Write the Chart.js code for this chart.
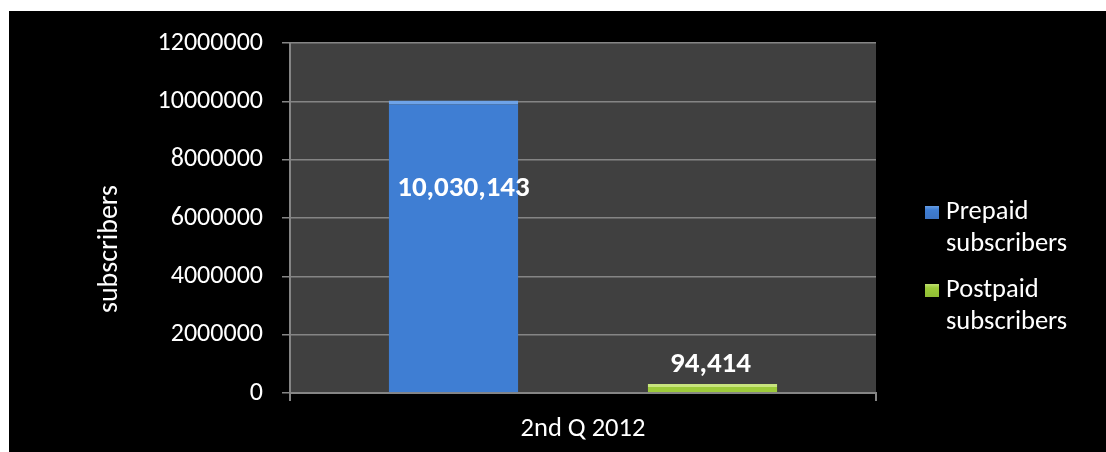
<!DOCTYPE html>
<html>
<head>
<meta charset="utf-8">
<script src="https://cdn.jsdelivr.net/npm/chart.js@4/dist/chart.umd.min.js"></script>
<style>
  html, body { margin: 0; padding: 0; background: #fff; }
  #wrap { position: absolute; left: 9px; top: 11px; width: 1097px; height: 441px; background: #000; }
</style>
</head>
<body>
<div id="wrap"><canvas id="c"></canvas></div>
<script>
const categories = ['2nd Q 2012']
const seriesNames = [['Prepaid', 'subscribers'], ['Postpaid', 'subscribers']]
const prepaid = [10030143]
const postpaid = [94414]
const yTicks = [0, 2000000, 4000000, 6000000, 8000000, 10000000, 12000000]
const yTitle = 'subscribers'

const FONT = 'Carlito, Calibri, Lato, sans-serif'
const colors = [
  { fill: '#3f7ed3', edge: '#6ea3e8', key: '#3c74c4' },
  { fill: '#9dcb3a', edge: '#c8e47e', key: '#8fbc34' },
]

const plotBg = {
  id: 'plotBg',
  beforeDraw(chart) {
    const { ctx, chartArea: a } = chart
    ctx.save()
    ctx.fillStyle = '#404040'
    ctx.fillRect(a.left, a.top, a.right - a.left, a.bottom - a.top)
    ctx.restore()
  },
}

// Excel put the axis title a bit below the middle, so it is drawn by hand
const axisTitle = {
  id: 'axisTitle',
  afterDraw(chart) {
    const { ctx } = chart
    ctx.save()
    ctx.translate(108, 238)
    ctx.rotate(-Math.PI / 2)
    ctx.font = '28px ' + FONT
    ctx.fillStyle = '#fff'
    ctx.textAlign = 'center'
    ctx.textBaseline = 'alphabetic'
    ctx.fillText(yTitle, 0, 0)
    ctx.restore()
  },
}

const valueLabels = {
  id: 'valueLabels',
  afterDatasetsDraw(chart) {
    const { ctx } = chart
    ctx.save()
    ctx.font = 'bold 29px ' + FONT
    ctx.fillStyle = '#fff'
    ctx.textAlign = 'center'
    ctx.textBaseline = 'middle'
    chart.data.datasets.forEach((ds, i) => {
      chart.getDatasetMeta(i).data.forEach((bar, j) => {
        const h = bar.base - bar.y
        const y = h > 100 ? bar.y + 88 : bar.y - 19
        ctx.fillText(ds.data[j].toLocaleString('en-US'), bar.x + (h > 100 ? 10 : -2), y)
      })
    })
    ctx.restore()
  },
}

const sideLegend = {
  id: 'sideLegend',
  afterDraw(chart) {
    const { ctx } = chart
    ctx.save()
    ctx.font = '26.5px ' + FONT
    ctx.textBaseline = 'middle'
    seriesNames.forEach((lines, i) => {
      const y0 = 201 + i * 78
      const c = colors[i]
      const g = ctx.createLinearGradient(0, y0 - 7, 0, y0 + 7)
      g.addColorStop(0, c.edge)
      g.addColorStop(0.35, c.fill)
      g.addColorStop(1, c.key)
      ctx.fillStyle = g
      ctx.fillRect(916, y0 - 6, 14, 13)
      ctx.fillStyle = '#fff'
      lines.forEach((t, k) => ctx.fillText(t, 937, y0 + k * 32))
    })
    ctx.restore()
  },
}

new Chart(document.getElementById('c'), {
  type: 'bar',
  data: {
    labels: categories,
    datasets: [
      { label: seriesNames[0].join(' '), data: prepaid, backgroundColor: colors[0].fill, borderColor: colors[0].edge, borderWidth: { top: 4, left: 0, right: 0, bottom: 0 }, borderSkipped: false, categoryPercentage: 0.884, barPercentage: 0.5 },
      { label: seriesNames[1].join(' '), data: postpaid, backgroundColor: colors[1].fill, borderColor: colors[1].edge, borderWidth: { top: 3, left: 0, right: 0, bottom: 0 }, borderSkipped: false, minBarLength: 9, categoryPercentage: 0.884, barPercentage: 0.5 },
    ],
  },
  options: {
    responsive: true,
    maintainAspectRatio: false,
    animation: false,
    layout: { padding: { left: 88, right: 230, top: 30, bottom: 0 } },
    plugins: { legend: { display: false }, tooltip: { enabled: false } },
    scales: {
      x: {
        grid: { drawOnChartArea: false, drawTicks: true, tickLength: 8, color: '#858585', lineWidth: 2 },
        border: { color: '#858585', width: 2 },
        ticks: { color: '#fff', font: { family: FONT, size: 26.5 }, padding: 12 },
        afterFit: s => { s.height = 59 },
      },
      y: {
        min: 0,
        max: 12000000,
        afterBuildTicks: s => { s.ticks = yTicks.map(v => ({ value: v })) },
        grid: { color: '#858585', lineWidth: 1.5, tickLength: 8 },
        border: { color: '#858585', width: 2 },
        ticks: { color: '#fff', font: { family: FONT, size: 26, lineHeight: 1 }, padding: 19, callback: v => String(v) },
        afterFit: s => { s.width = 193 },
      },
    },
  },
  plugins: [plotBg, axisTitle, valueLabels, sideLegend],
})
</script>
</body>
</html>
